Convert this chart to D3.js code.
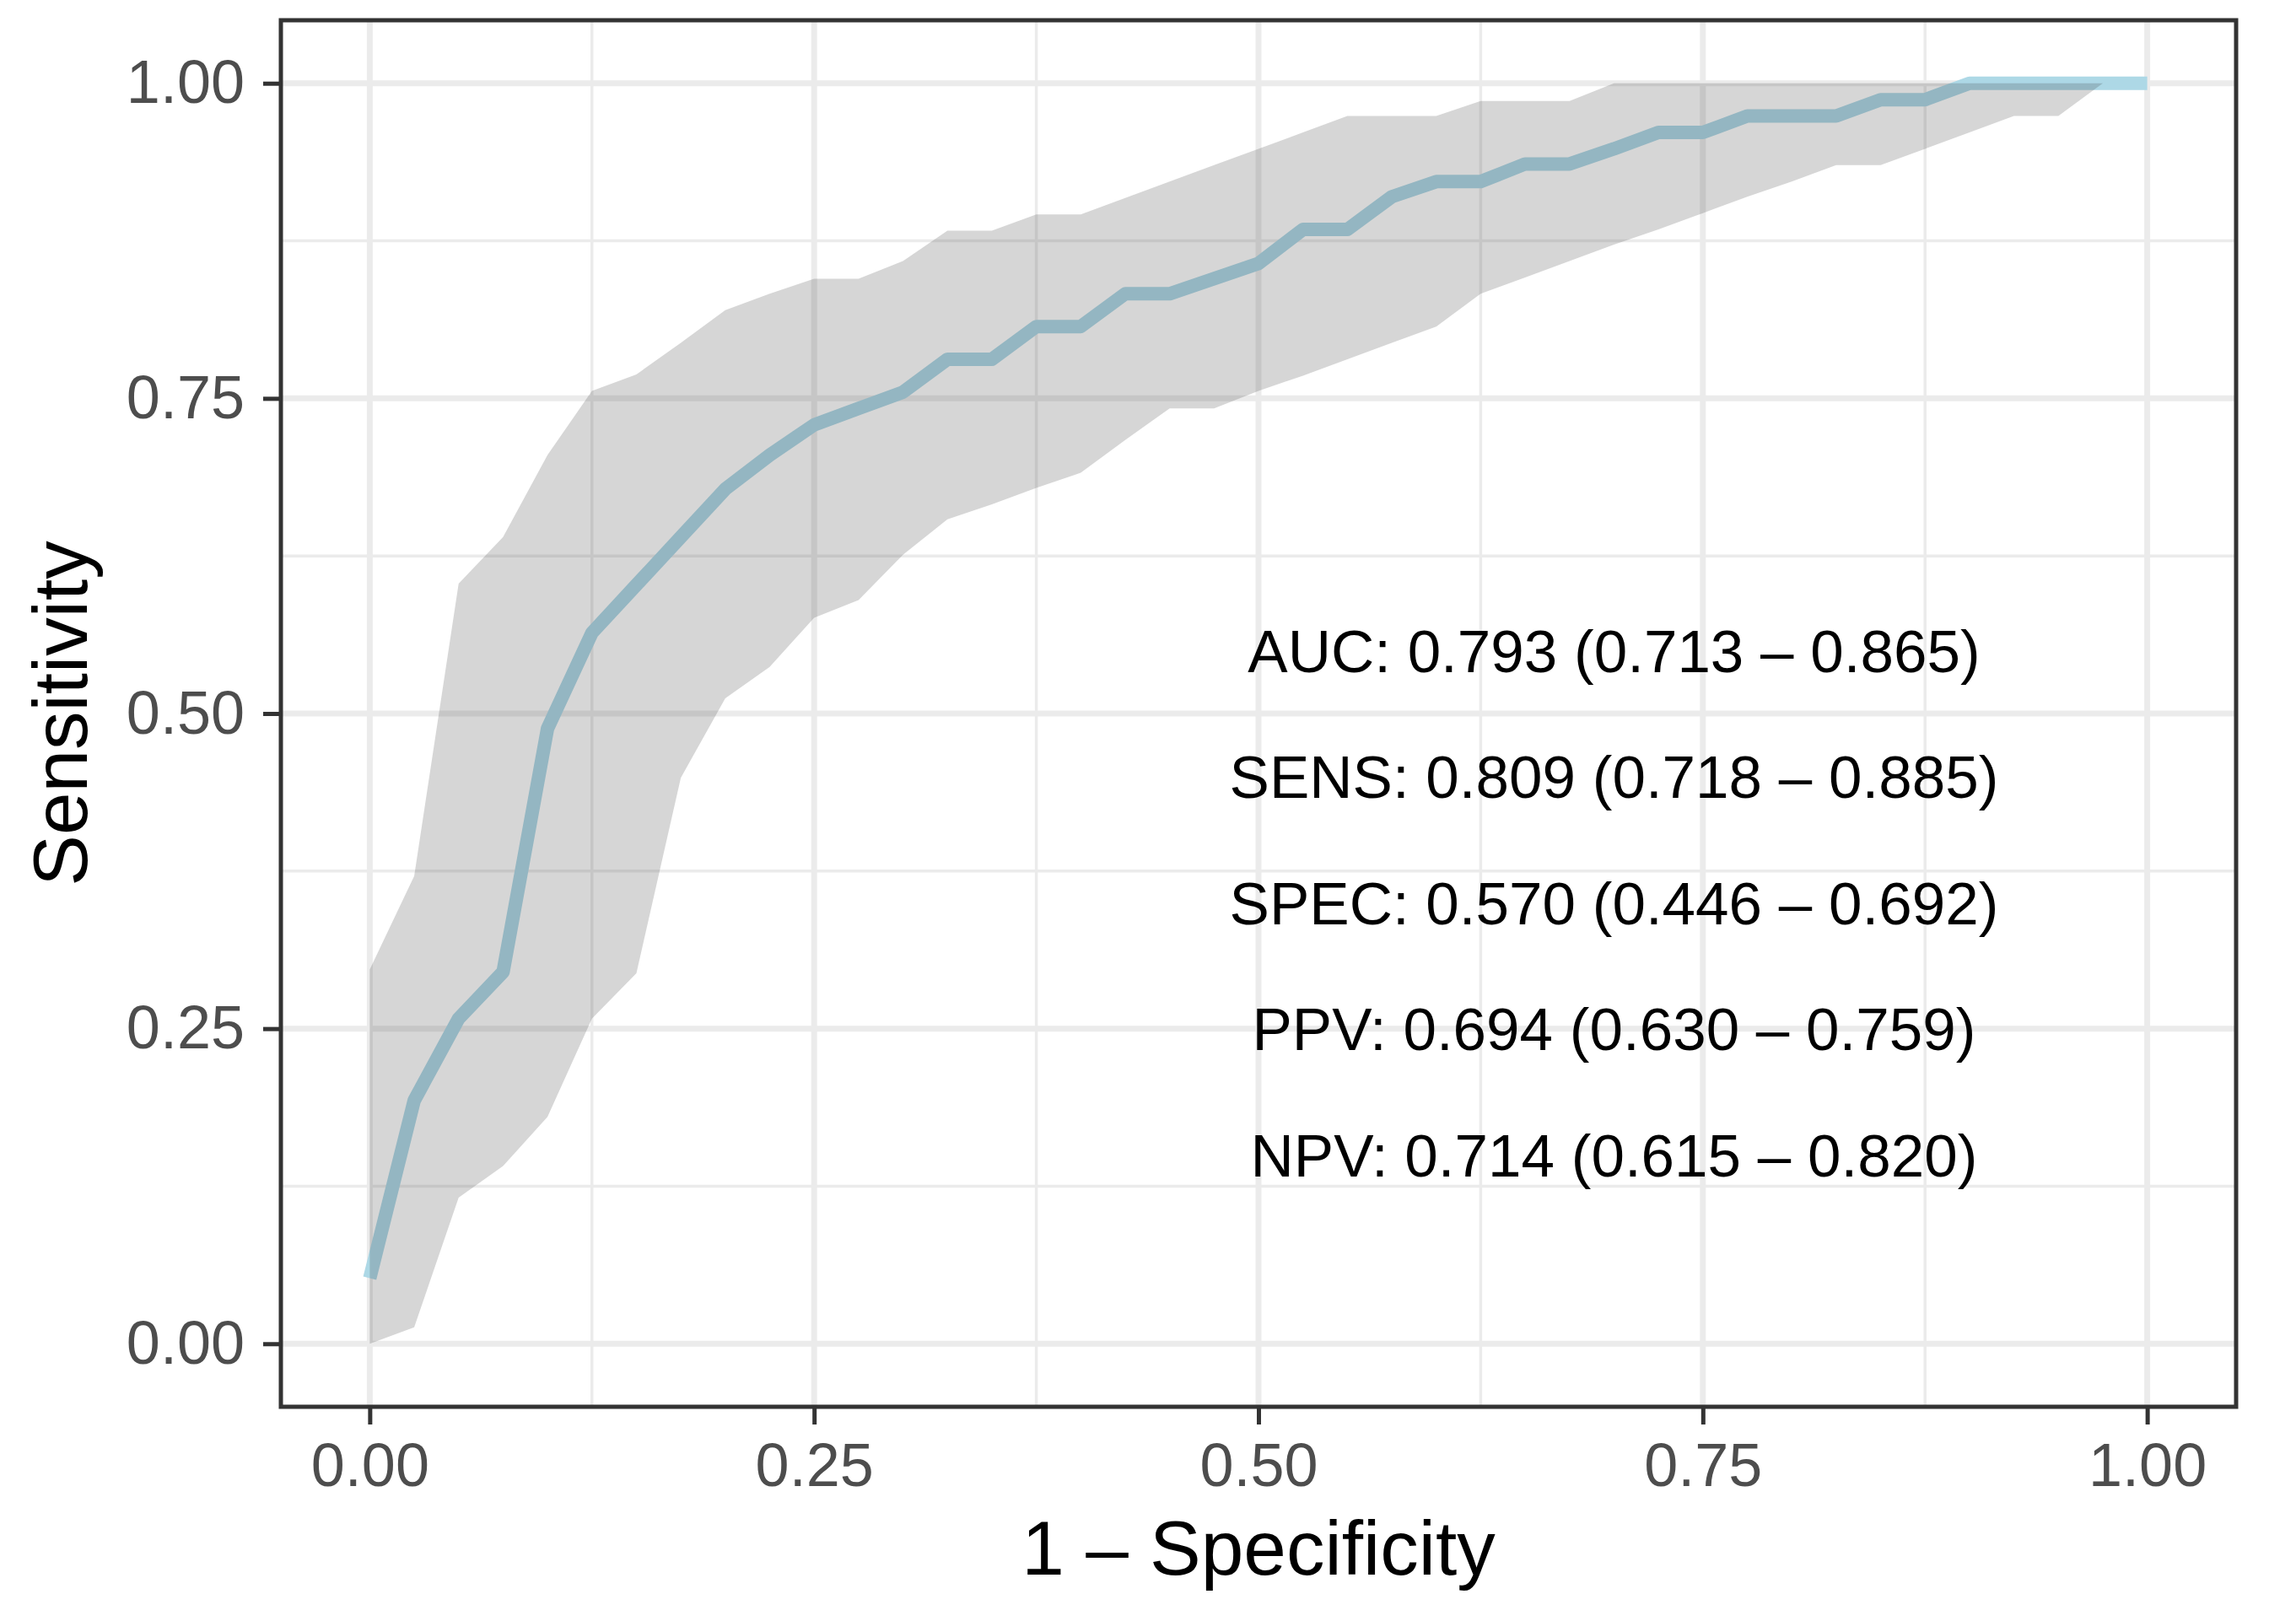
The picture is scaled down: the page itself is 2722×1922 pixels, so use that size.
<!DOCTYPE html>
<html>
<head>
<meta charset="utf-8">
<script src="https://cdn.jsdelivr.net/npm/d3@7"></script>
<style>
html, body { margin: 0; padding: 0; background: #ffffff; }
svg { display: block; }
</style>
</head>
<body>
<svg id="chart" width="2722" height="1922"></svg>
<script>
// ---- data ----
const fpr = [0, 0.025, 0.05, 0.075, 0.1, 0.125, 0.15, 0.175, 0.2, 0.225,
             0.25, 0.275, 0.3, 0.325, 0.35, 0.375, 0.4, 0.425, 0.45, 0.475,
             0.5, 0.525, 0.55, 0.575, 0.6, 0.625, 0.65, 0.675, 0.7, 0.725,
             0.75, 0.775, 0.8, 0.825, 0.85, 0.875, 0.9, 0.925, 0.95, 0.975, 1.0];
const sensMedian = [0.052, 0.193, 0.258, 0.295, 0.488, 0.564, 0.602, 0.640, 0.678, 0.705,
                    0.729, 0.742, 0.755, 0.781, 0.781, 0.807, 0.807, 0.833, 0.833, 0.845,
                    0.857, 0.884, 0.884, 0.910, 0.922, 0.922, 0.936, 0.936, 0.948, 0.961,
                    0.961, 0.974, 0.974, 0.974, 0.987, 0.987, 1.0, 1.0, 1.0, 1.0, 1.0];
const sensLower = [0.0, 0.013, 0.116, 0.141, 0.180, 0.258, 0.294, 0.449, 0.512, 0.537,
                   0.576, 0.590, 0.626, 0.654, 0.666, 0.679, 0.691, 0.717, 0.742, 0.742,
                   0.756, 0.768, 0.781, 0.794, 0.807, 0.833, 0.846, 0.859, 0.872, 0.884,
                   0.897, 0.910, 0.922, 0.935, 0.935, 0.948, 0.961, 0.974, 0.974, 1.0, 1.0];
const sensUpper = [0.297, 0.371, 0.603, 0.640, 0.705, 0.756, 0.769, 0.794, 0.820, 0.833,
                   0.845, 0.845, 0.859, 0.883, 0.883, 0.896, 0.896, 0.909, 0.922, 0.935,
                   0.948, 0.961, 0.974, 0.974, 0.974, 0.986, 0.986, 0.986, 1.0, 1.0,
                   1.0, 1.0, 1.0, 1.0, 1.0, 1.0, 1.0, 1.0, 1.0, 1.0, 1.0];
const xTicks = [0, 0.25, 0.5, 0.75, 1.0];
const yTicks = [0, 0.25, 0.5, 0.75, 1.0];
const minorTicks = [0.125, 0.375, 0.625, 0.875];
const annotLabels = ["AUC: 0.793 (0.713 \u2013 0.865)",
                     "SENS: 0.809 (0.718 \u2013 0.885)",
                     "SPEC: 0.570 (0.446 \u2013 0.692)",
                     "PPV: 0.694 (0.630 \u2013 0.759)",
                     "NPV: 0.714 (0.615 \u2013 0.820)"];
const annotY = [0.55, 0.45, 0.35, 0.25, 0.15];
const annotX = 0.7;
const xTitle = "1 \u2013 Specificity";
const yTitle = "Sensitivity";

// ---- layout ----
const FONT = "'Liberation Sans', Arial, Helvetica, sans-serif";
const panel = { left: 333, right: 2651, top: 24, bottom: 1668 };
const x = d3.scaleLinear().domain([-0.05, 1.05]).range([panel.left, panel.right]);
const y = d3.scaleLinear().domain([-0.05, 1.05]).range([panel.bottom, panel.top]);

const svg = d3.select("#chart");
svg.append("rect").attr("width", 2722).attr("height", 1922).attr("fill", "#ffffff");

// grid
const grid = svg.append("g");
grid.selectAll("line.vminor").data(minorTicks).join("line")
  .attr("x1", d => x(d)).attr("x2", d => x(d))
  .attr("y1", panel.top).attr("y2", panel.bottom)
  .attr("stroke", "#EBEBEB").attr("stroke-width", 3.5);
grid.selectAll("line.hminor").data(minorTicks).join("line")
  .attr("y1", d => y(d)).attr("y2", d => y(d))
  .attr("x1", panel.left).attr("x2", panel.right)
  .attr("stroke", "#EBEBEB").attr("stroke-width", 3.5);
grid.selectAll("line.vmajor").data(xTicks).join("line")
  .attr("x1", d => x(d)).attr("x2", d => x(d))
  .attr("y1", panel.top).attr("y2", panel.bottom)
  .attr("stroke", "#EBEBEB").attr("stroke-width", 7);
grid.selectAll("line.hmajor").data(yTicks).join("line")
  .attr("y1", d => y(d)).attr("y2", d => y(d))
  .attr("x1", panel.left).attr("x2", panel.right)
  .attr("stroke", "#EBEBEB").attr("stroke-width", 7);

// curve data
const pts = fpr.map((f, i) => ({ f, m: sensMedian[i], lo: sensLower[i], hi: sensUpper[i] }));

// median line (drawn under the ribbon)
const line = d3.line().x(d => x(d.f)).y(d => y(d.m));
svg.append("path").datum(pts)
  .attr("d", line)
  .attr("fill", "none")
  .attr("stroke", "#ADD8E6")
  .attr("stroke-width", 16)
  .attr("stroke-linejoin", "round")
  .attr("stroke-linecap", "butt");

// confidence ribbon
const area = d3.area().x(d => x(d.f)).y0(d => y(d.lo)).y1(d => y(d.hi));
svg.append("path").datum(pts)
  .attr("d", area)
  .attr("fill", "#333333")
  .attr("fill-opacity", 0.2)
  .attr("stroke", "none");

// annotations
svg.append("g").selectAll("text").data(annotLabels).join("text")
  .attr("x", x(annotX))
  .attr("y", (d, i) => y(annotY[i]))
  .attr("dy", "0.36em")
  .attr("text-anchor", "middle")
  .attr("font-family", FONT)
  .attr("font-size", 71)
  .attr("fill", "#000000")
  .text(d => d);

// axes
const fmt = d3.format(".2f");
const xAxis = svg.append("g")
  .attr("transform", `translate(0,${panel.bottom})`)
  .call(d3.axisBottom(x).tickValues(xTicks).tickFormat(fmt).tickSizeInner(21).tickSizeOuter(0).tickPadding(22));
const yAxis = svg.append("g")
  .attr("transform", `translate(${panel.left},0)`)
  .call(d3.axisLeft(y).tickValues(yTicks).tickFormat(fmt).tickSizeInner(21).tickSizeOuter(0).tickPadding(22));
[xAxis, yAxis].forEach(g => {
  g.select(".domain").remove();
  g.selectAll(".tick line").attr("stroke", "#333333").attr("stroke-width", 5);
  g.selectAll(".tick text")
    .attr("font-family", FONT)
    .attr("font-size", 72)
    .attr("fill", "#4D4D4D");
});

// panel border
svg.append("rect")
  .attr("x", panel.left).attr("y", panel.top)
  .attr("width", panel.right - panel.left).attr("height", panel.bottom - panel.top)
  .attr("fill", "none").attr("stroke", "#333333").attr("stroke-width", 5);

// titles
svg.append("text")
  .attr("x", (panel.left + panel.right) / 2)
  .attr("y", 1867)
  .attr("text-anchor", "middle")
  .attr("font-family", FONT)
  .attr("font-size", 91)
  .attr("fill", "#000000")
  .text(xTitle);
svg.append("text")
  .attr("transform", `translate(103,${(panel.top + panel.bottom) / 2}) rotate(-90)`)
  .attr("text-anchor", "middle")
  .attr("font-family", FONT)
  .attr("font-size", 91)
  .attr("fill", "#000000")
  .text(yTitle);
</script>
</body>
</html>
